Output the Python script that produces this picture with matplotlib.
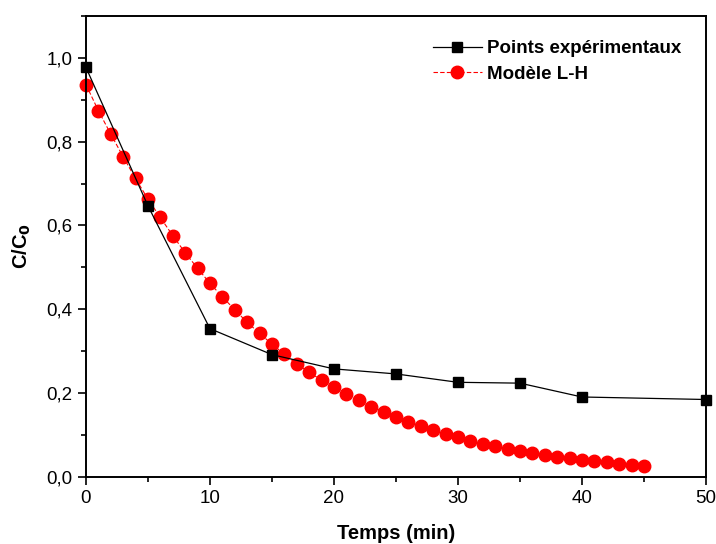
import matplotlib
matplotlib.use('Agg')
import matplotlib.pyplot as plt
from matplotlib.ticker import MultipleLocator, FuncFormatter

plt.rcParams['font.family'] = ['Liberation Sans', 'DejaVu Sans']

# experimental points
t_exp = [0, 5, 10, 15, 20, 25, 30, 35, 40, 50]
c_exp = [0.977, 0.647, 0.354, 0.292, 0.258, 0.246, 0.226, 0.224, 0.191, 0.185]

# L-H model, one point per minute
t_mod = list(range(0, 46))
c_mod = [0.936, 0.874, 0.818, 0.764, 0.712, 0.663, 0.619, 0.576, 0.535, 0.498,
         0.462, 0.430, 0.399, 0.369, 0.343, 0.317, 0.293, 0.270, 0.250, 0.231,
         0.214, 0.198, 0.183, 0.168, 0.156, 0.143, 0.132, 0.122, 0.112, 0.103,
         0.095, 0.087, 0.080, 0.074, 0.068, 0.062, 0.058, 0.053, 0.048, 0.045,
         0.041, 0.038, 0.035, 0.032, 0.029, 0.027]

fig = plt.figure(figsize=(7.16, 5.44), dpi=100)
ax = fig.add_axes([0.120, 0.123, 0.866, 0.848])

ax.plot(t_exp, c_exp, 'k-', marker='s', markersize=7, linewidth=0.9,
        label='Points expérimentaux', zorder=3, clip_on=False)
ax.plot(t_mod, c_mod, color='red', linestyle='--', dashes=(4, 2), marker='o',
        markersize=9, linewidth=0.8, label='Modèle L-H', zorder=2, clip_on=False)

ax.set_xlim(0, 50)
ax.set_ylim(0, 1.1)
ax.xaxis.set_major_locator(MultipleLocator(10))
ax.xaxis.set_minor_locator(MultipleLocator(5))
ax.yaxis.set_major_locator(MultipleLocator(0.2))
ax.yaxis.set_minor_locator(MultipleLocator(0.1))
ax.yaxis.set_major_formatter(FuncFormatter(lambda v, p: ('%.1f' % v).replace('.', ',')))
ax.set_yticks([0, 0.2, 0.4, 0.6, 0.8, 1.0])

ax.tick_params(which='major', direction='out', length=6, width=1.2, labelsize=13.5)
ax.tick_params(which='minor', direction='out', length=3.5, width=1.2)
for s in ax.spines.values():
    s.set_linewidth(1.4)

ax.set_xlabel('Temps (min)', fontsize=14.5, fontweight='bold', labelpad=12)
ax.set_ylabel('C/C$_\\mathbf{0}$', fontsize=14.5, fontweight='bold', labelpad=10)

leg = ax.legend(loc='upper right', frameon=False, prop={'weight': 'bold', 'size': 13.5},
                handlelength=2.6, borderaxespad=0.9, labelspacing=0.45, handletextpad=0.3)

fig.savefig('out.png', dpi=100)
